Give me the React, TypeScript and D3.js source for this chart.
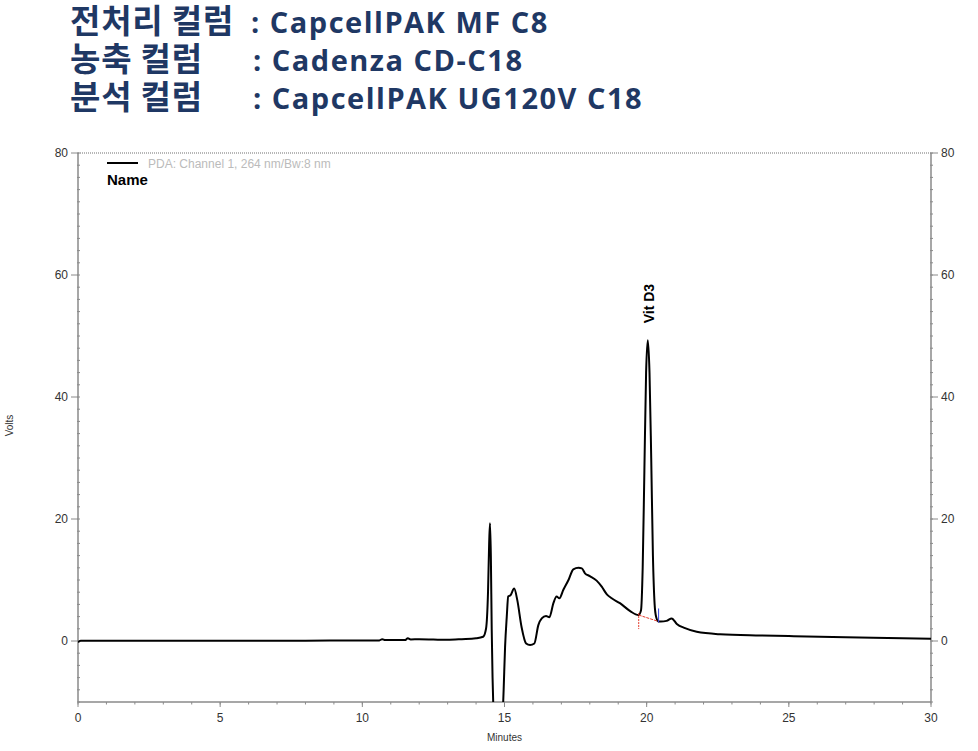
import React from "react";
import * as d3 from "d3";

const titleLabels = ["전처리 컬럼", "농축 컬럼", "분석 컬럼"];
const titleValues = [": CapcellPAK MF C8", ": Cadenza CD-C18", ": CapcellPAK UG120V C18"];

const timeMin = [0, 0.1, 2, 5, 8, 9.5, 10.6, 10.7, 10.8, 11.5, 11.6, 11.7, 12, 13, 13.5, 14, 14.25, 14.35, 14.42, 14.46, 14.49, 14.52, 14.55, 14.58, 14.62, 14.7, 14.85, 14.93, 14.97, 15.02, 15.08, 15.13, 15.21, 15.34, 15.45, 15.6, 15.76, 15.9, 16.05, 16.19, 16.31, 16.46, 16.58, 16.72, 16.83, 16.93, 17.07, 17.25, 17.42, 17.6, 17.72, 17.83, 18.0, 18.24, 18.42, 18.6, 18.77, 19.06, 19.42, 19.71, 19.8, 19.86, 19.92, 19.98, 20.04, 20.1, 20.16, 20.22, 20.28, 20.33, 20.41, 20.5, 20.7, 20.88, 21.06, 21.35, 21.76, 22.58, 24, 25, 27, 29, 30];
const volts = [-0.2, 0.05, 0.05, 0.05, 0.05, 0.1, 0.1, 0.3, 0.15, 0.15, 0.45, 0.25, 0.3, 0.2, 0.3, 0.45, 0.7, 2, 8, 16, 19.3, 14, 2, -6, -13, -20, -20, -13, -8, -1, 4, 7.3, 7.5, 8.6, 6.7, 2.3, -0.4, -0.65, -0.4, 2.6, 3.7, 4.1, 3.9, 6.2, 7.3, 7.0, 8.4, 10.0, 11.75, 12.0, 11.9, 11.1, 10.65, 9.9, 8.9, 7.65, 7.0, 6.2, 4.9, 4.25, 5, 12, 28, 44, 49.3, 44, 30, 14, 6, 4, 3.2, 3.2, 3.3, 3.7, 2.8, 2.1, 1.5, 1.1, 0.9, 0.8, 0.6, 0.45, 0.35];

const peakName = "Vit D3";
const peakTime = 20.04;
const peakApex = 49.3;
const integStart = { t: 19.72, v: 4.25 };
const integEnd = { t: 20.42, v: 3.2 };

const xTicks = [0, 5, 10, 15, 20, 25, 30];
const yTicks = [0, 20, 40, 60, 80];

const legendText = "PDA: Channel 1, 264 nm/Bw:8 nm";
const legendHeader = "Name";
const xTitle = "Minutes";
const yTitle = "Volts";

export default function App() {
  const W = 978, H = 751;
  const L = 78, R = 931, T = 153, B = 702;
  const x = d3.scaleLinear().domain([0, 30]).range([L, R]);
  const y = d3.scaleLinear().domain([-10, 80]).range([B, T]);
  const pts = timeMin.map((t, i) => [t, volts[i]] as [number, number]);
  const line = d3.line<[number, number]>().x(d => x(d[0])).y(d => y(d[1])).curve(d3.curveMonotoneX);
  const minorX = d3.range(0, 30.01, 1);
  const minorY = d3.range(-10, 80.01, 2);
  const axisColor = "#8a8a8a";
  const tickFont = "Arial, 'Liberation Sans', sans-serif";
  const titleBase = [33, 71, 109];

  return (
    <svg width={W} height={H} style={{ position: "absolute", left: 0, top: 0, background: "#fff" }}>
      <rect width={W} height={H} fill="#fff" />
      {/* Title */}
      {titleLabels.map((lab, i) => (
        <g key={i} fontWeight={700} fill="#1f3864">
          <text x={70} y={titleBase[i]} fontFamily="'Noto Sans CJK KR', 'Noto Sans', sans-serif" fontSize={33} letterSpacing={0.8}>{lab}</text>
          <text x={i === 0 ? 251 : 253} y={titleBase[i]} fontFamily="'Open Sans', 'Noto Sans', sans-serif" fontSize={29} letterSpacing={1.5}>{titleValues[i]}</text>
        </g>
      ))}
      <defs>
        <clipPath id="plotclip">
          <rect x={L} y={T} width={R - L} height={B - T} />
        </clipPath>
      </defs>
      {/* frame */}
      <line x1={L} x2={R} y1={T} y2={T} stroke="#a0a0a0" strokeWidth={1.5} strokeDasharray="1 1" />
      <line x1={L} x2={R} y1={B} y2={B} stroke={axisColor} strokeWidth={1.5} />
      <line x1={L} x2={L} y1={T} y2={B} stroke={axisColor} strokeWidth={1.5} />
      <line x1={R} x2={R} y1={T} y2={B} stroke={axisColor} strokeWidth={1.5} />
      {/* y minor ticks */}
      {minorY.map(v => (
        <g key={"my" + v}>
          <line x1={L - 1} x2={L + 2} y1={y(v)} y2={y(v)} stroke={axisColor} />
          <line x1={R - 1} x2={R + 2} y1={y(v)} y2={y(v)} stroke={axisColor} />
        </g>
      ))}
      {/* x minor ticks */}
      {minorX.map(t => (
        <line key={"mx" + t} x1={x(t)} x2={x(t)} y1={B} y2={B + 2.5} stroke={axisColor} />
      ))}
      {/* y major */}
      {yTicks.map(v => (
        <g key={"y" + v} fontFamily={tickFont} fontSize={12} fill="#333">
          <line x1={L - 7} x2={L} y1={y(v)} y2={y(v)} stroke={axisColor} />
          <line x1={R} x2={R + 7} y1={y(v)} y2={y(v)} stroke={axisColor} />
          <text x={L - 10} y={y(v)} textAnchor="end" dominantBaseline="central">{v}</text>
          <text x={R + 10} y={y(v)} textAnchor="start" dominantBaseline="central">{v}</text>
        </g>
      ))}
      {/* x major */}
      {xTicks.map(t => (
        <g key={"x" + t} fontFamily={tickFont} fontSize={12} fill="#333">
          <line x1={x(t)} x2={x(t)} y1={B} y2={B + 5} stroke={axisColor} />
          <text x={x(t)} y={B + 16} textAnchor="middle" dominantBaseline="central">{t}</text>
        </g>
      ))}
      <text x={(L + R) / 2} y={741} textAnchor="middle" fontFamily={tickFont} fontSize={10} fill="#333">{xTitle}</text>
      <text transform={`translate(13, ${(T + B) / 2 - 2}) rotate(-90)`} textAnchor="middle" fontFamily={tickFont} fontSize={10} fill="#333">{yTitle}</text>
      {/* legend */}
      <line x1={107} x2={138} y1={163} y2={163} stroke="#000" strokeWidth={2} />
      <text x={148} y={168} fontFamily={tickFont} fontSize={12} fill="#bbb">{legendText}</text>
      <text x={107} y={185} fontFamily={tickFont} fontSize={15} fontWeight={700} fill="#000">{legendHeader}</text>
      {/* trace */}
      <g clipPath="url(#plotclip)">
        <path d={line(pts) || ""} fill="none" stroke="#000" strokeWidth={2} strokeLinejoin="round" />
      </g>
      {/* integration marks */}
      <line x1={x(integStart.t)} x2={x(integEnd.t)} y1={y(integStart.v)} y2={y(integEnd.v)} stroke="#e53b2c" strokeWidth={1} strokeDasharray="3 1" />
      <line x1={x(integStart.t)} x2={x(integStart.t)} y1={y(integStart.v) - 2} y2={y(integStart.v) + 14} stroke="#e53b2c" strokeWidth={1} strokeDasharray="2 1" />
      <line x1={x(integEnd.t)} x2={x(integEnd.t)} y1={y(integEnd.v) + 1} y2={y(integEnd.v) - 13} stroke="#3344dd" strokeWidth={1} />
      {/* peak label */}
      <text transform={`translate(${x(peakTime) + 1}, ${y(peakApex) - 17}) rotate(-90)`} textAnchor="start" dominantBaseline="central" fontFamily={tickFont} fontSize={14} fontWeight={700} fill="#000">{peakName}</text>
    </svg>
  );
}
